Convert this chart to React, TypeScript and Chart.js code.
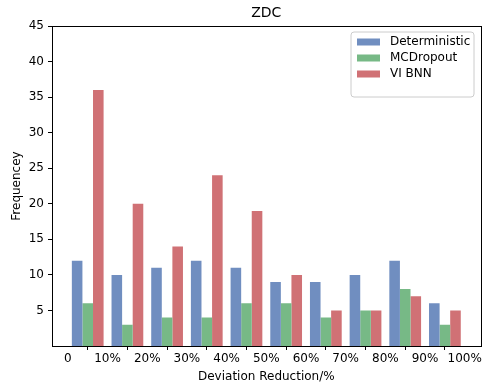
import React, { useEffect, useRef } from "react";
import { Chart, registerables } from "chart.js";

Chart.register(...registerables);

const binCenters = [5, 15, 25, 35, 45, 55, 65, 75, 85, 95];
const xTicks = [0, 10, 20, 30, 40, 50, 60, 70, 80, 90, 100];
const yTicks = [5, 10, 15, 20, 25, 30, 35, 40, 45];
const deterministic = [12, 10, 11, 12, 11, 9, 9, 10, 12, 6];
const mcDropout = [6, 3, 4, 4, 6, 6, 4, 5, 8, 3];
const viBnn = [36, 20, 14, 24, 19, 10, 5, 5, 7, 5];
const seriesNames = ["Deterministic", "MCDropout", "VI BNN"];
const seriesColors = ["rgb(112,142,192)", "rgb(119,185,134)", "rgb(208,113,117)"];

const FONT = "'DejaVu Sans', sans-serif";

const toPoints = (vals: number[]) => vals.map((v, i) => ({ x: binCenters[i], y: v }));

const decorPlugin = {
  id: "decor",
  afterDraw(chart: any) {
    const ctx = chart.ctx as CanvasRenderingContext2D;
    const a = chart.chartArea;
    ctx.save();
    ctx.strokeStyle = "#000";
    ctx.lineWidth = 1;
    ctx.strokeRect(Math.round(a.left) + 0.5, Math.round(a.top) + 0.5, Math.round(a.right - a.left), Math.round(a.bottom - a.top));
    ctx.fillStyle = "#000";
    ctx.font = `14px ${FONT}`;
    ctx.textAlign = "center";
    ctx.textBaseline = "middle";
    ctx.fillText("ZDC", (a.left + a.right) / 2, 13);
    ctx.font = `12px ${FONT}`;
    ctx.fillText("Deviation Reduction/%", (a.left + a.right) / 2, 377);
    ctx.save();
    ctx.translate(17, (a.top + a.bottom) / 2);
    ctx.rotate(-Math.PI / 2);
    ctx.fillText("Frequencey", 0, 0);
    ctx.restore();
    const bx = 351, by = 32, bw = 123, bh = 65, r = 3;
    ctx.fillStyle = "rgba(255,255,255,0.8)";
    ctx.strokeStyle = "#cccccc";
    ctx.beginPath();
    ctx.moveTo(bx + r, by);
    ctx.lineTo(bx + bw - r, by);
    ctx.quadraticCurveTo(bx + bw, by, bx + bw, by + r);
    ctx.lineTo(bx + bw, by + bh - r);
    ctx.quadraticCurveTo(bx + bw, by + bh, bx + bw - r, by + bh);
    ctx.lineTo(bx + r, by + bh);
    ctx.quadraticCurveTo(bx, by + bh, bx, by + bh - r);
    ctx.lineTo(bx, by + r);
    ctx.quadraticCurveTo(bx, by, bx + r, by);
    ctx.closePath();
    ctx.fill();
    ctx.stroke();
    const rows = [42, 58, 74];
    ctx.textAlign = "left";
    ctx.font = `12px ${FONT}`;
    seriesNames.forEach((name, i) => {
      ctx.fillStyle = seriesColors[i];
      ctx.fillRect(357, rows[i] - 3.5, 23, 7);
      ctx.fillStyle = "#000";
      ctx.fillText(name, 390, rows[i]);
    });
    ctx.restore();
  },
};

export default function App() {
  const ref = useRef<HTMLCanvasElement>(null);
  useEffect(() => {
    if (!ref.current) return;
    const datasets = [deterministic, mcDropout, viBnn].map((vals, i) => ({
      label: seriesNames[i],
      data: toPoints(vals),
      backgroundColor: seriesColors[i],
      borderWidth: 0,
      categoryPercentage: 0.8,
      barPercentage: 1.0,
    }));
    const chart = new Chart(ref.current, {
      type: "bar",
      data: { datasets },
      options: {
        animation: false,
        responsive: false,
        layout: { padding: { left: 0, right: 3, top: 26, bottom: 0 } },
        plugins: { legend: { display: false }, tooltip: { enabled: false }, title: { display: false } },
        scales: {
          x: {
            type: "linear",
            min: -4,
            max: 104,
            offset: false,
            afterBuildTicks: (s: any) => {
              s.ticks = xTicks.map((v) => ({ value: v }));
            },
            afterFit: (s: any) => {
              s.height = 41;
            },
            grid: { drawOnChartArea: false, drawTicks: true, tickLength: 4, color: "#000" },
            border: { display: true, color: "#000" },
            ticks: {
              autoSkip: false,
              maxRotation: 0,
              padding: 2,
              color: "#000",
              font: { family: FONT, size: 12 },
              callback: (v: any) => (v === 0 ? "0" : `${v}%`),
            },
          },
          y: {
            type: "linear",
            min: 0,
            max: 45,
            afterBuildTicks: (s: any) => {
              s.ticks = yTicks.map((v) => ({ value: v }));
            },
            afterFit: (s: any) => {
              s.width = 52;
            },
            grid: { drawOnChartArea: false, drawTicks: true, tickLength: 4, color: "#000" },
            border: { display: true, color: "#000" },
            ticks: {
              padding: 4,
              color: "#000",
              font: { family: FONT, size: 12 },
            },
          },
        },
      },
      plugins: [decorPlugin],
    } as any);
    return () => chart.destroy();
  }, []);
  return (
    <div style={{ position: "fixed", left: 0, top: 0, width: 484, height: 387, background: "#fff" }}>
      <canvas ref={ref} width={484} height={387} />
    </div>
  );
}
